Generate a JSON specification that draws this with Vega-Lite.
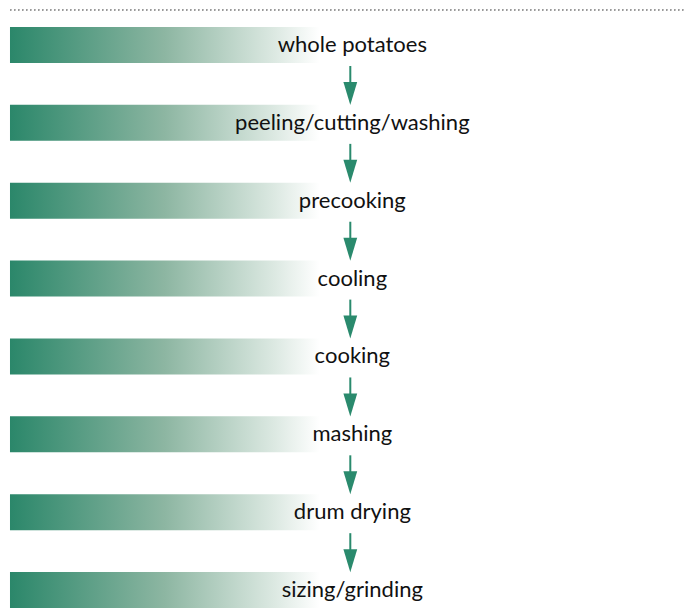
{
  "$schema": "https://vega.github.io/schema/vega-lite/v6.json",
  "width": 687,
  "height": 612,
  "autosize": {"type": "fit", "contains": "padding"},
  "padding": 0,
  "background": "#ffffff",
  "config": {"view": {"stroke": null}, "scale": {"continuousPadding": 0}},
  "data": {
    "values": [
      {"step": 1, "label": "whole potatoes"},
      {"step": 2, "label": "peeling/cutting/washing"},
      {"step": 3, "label": "precooking"},
      {"step": 4, "label": "cooling"},
      {"step": 5, "label": "cooking"},
      {"step": 6, "label": "mashing"},
      {"step": 7, "label": "drum drying"},
      {"step": 8, "label": "sizing/grinding"}
    ]
  },
  "encoding": {
    "y": {"field": "step", "type": "quantitative", "scale": {"domain": [0.422, 8.282], "reverse": true, "nice": false, "zero": false, "padding": 0}, "axis": null}
  },
  "layer": [
    {
      "mark": {"type": "rule", "strokeDash": [1.2, 2.8], "strokeWidth": 1.2, "color": "#9a9a9a"},
      "encoding": {
        "y": {"datum": 0.55, "type": "quantitative", "scale": {"domain": [0.422, 8.282], "reverse": true, "nice": false, "zero": false, "padding": 0}},
        "x": {"datum": 0, "type": "quantitative", "scale": {"domain": [-3.226, 218.39], "nice": false, "zero": false, "padding": 0}, "axis": null},
        "x2": {"datum": 218.39}
      }
    },
    {
      "mark": {
        "type": "bar",
        "orient": "horizontal",
        "size": 36,
        "color": {
          "gradient": "linear",
          "x1": 0, "y1": 0, "x2": 1, "y2": 0,
          "stops": [
            {"offset": 0, "color": "#2b876a"},
            {"offset": 0.5, "color": "#8db6a2"},
            {"offset": 0.85, "color": "#dbe8e1"},
            {"offset": 1, "color": "#ffffff"}
          ]
        }
      },
      "encoding": {
        "x": {"datum": 100, "type": "quantitative", "scale": {"domain": [-3.226, 218.39], "nice": false, "zero": false, "padding": 0}, "axis": null},
        "x2": {"datum": 0}
      }
    },
    {
      "transform": [{"filter": "datum.step < 8"}],
      "mark": {"type": "rule", "color": "#2a8a6d", "strokeWidth": 2, "yOffset": 21, "y2Offset": 42},
      "encoding": {
        "x": {"datum": 109.94, "type": "quantitative", "scale": {"domain": [-3.226, 218.39], "nice": false, "zero": false, "padding": 0}, "axis": null},
        "y2": {"field": "step"}
      }
    },
    {
      "transform": [{"filter": "datum.step < 8"}],
      "mark": {"type": "point", "shape": "M-0.6,-1L0.6,-1L0,1Z", "filled": true, "color": "#2a8a6d", "opacity": 1, "size": 529, "yOffset": 48.5},
      "encoding": {
        "x": {"datum": 109.94, "type": "quantitative", "scale": {"domain": [-3.226, 218.39], "nice": false, "zero": false, "padding": 0}, "axis": null}
      }
    },
    {
      "mark": {"type": "text", "font": "Lato", "fontSize": 22, "color": "#111111", "baseline": "alphabetic", "align": "center", "dy": 7},
      "encoding": {
        "x": {"datum": 110.6, "type": "quantitative", "scale": {"domain": [-3.226, 218.39], "nice": false, "zero": false, "padding": 0}, "axis": null},
        "text": {"field": "label"}
      }
    }
  ]
}
